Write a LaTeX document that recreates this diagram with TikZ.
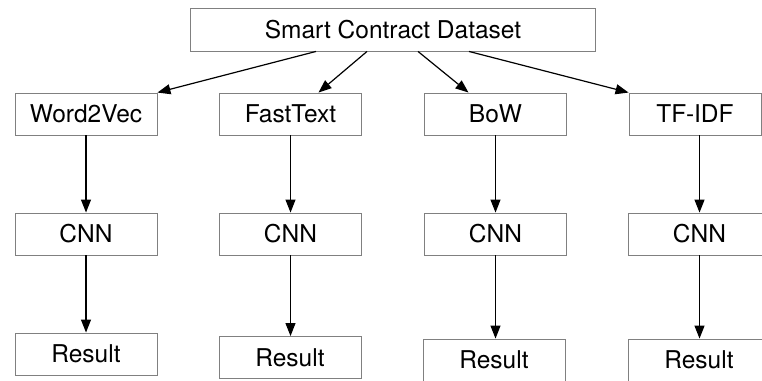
\documentclass[tikz,border=0pt]{standalone}
\usepackage{fontspec}
\setmainfont{TeX Gyre Heros}
\usetikzlibrary{arrows.meta}
\begin{document}
\begin{tikzpicture}[x=1pt,y=-1pt,
  box/.style={draw=black!50, line width=0.9pt, fill=white, minimum height=42pt, inner sep=0pt,
    font=\fontsize{24.5}{29}\selectfont},
  colbox/.style={box, minimum width=142pt},
  arr/.style={draw=black, line width=1.2pt, -{Triangle[length=13pt,width=10pt]}}]
\useasboundingbox (0,0) rectangle (762,380);
\clip (0,0) rectangle (762,380);
\node[box, minimum width=405pt, minimum height=43pt] (top) at (393,29.5) {Smart Contract Dataset};
% row 2
\node[colbox] (w2v) at (86,114) {Word2Vec};
\node[colbox] (ft) at (290.5,114) {FastText};
\node[colbox] (bow) at (495.5,114) {BoW};
\node[box, minimum width=132pt] (tfidf) at (695,114) {TF-IDF};
% CNN
\node[colbox] (c1) at (86,234) {CNN};
\node[colbox] (c2) at (290.5,234) {CNN};
\node[colbox] (c3) at (495.5,234) {CNN};
\node[box, minimum width=142pt] (c4) at (699.5,234) {CNN};
% Results
\node[colbox] (r1) at (86,354) {Result};
\node[colbox] (r2) at (290,357.5) {Result};
\node[colbox] (r3) at (494,360) {Result};
\node[box, minimum width=142pt] (r4) at (699,360) {Result};
% arrows from top
\draw[arr] ([xshift=-77pt]top.south) -- (w2v.north east);
\draw[arr] ([xshift=-26pt]top.south) -- ([xshift=28pt]ft.north);
\draw[arr] ([xshift=25pt]top.south) -- ([xshift=-27pt]bow.north);
\draw[arr] ([xshift=76pt]top.south) -- (tfidf.north west);
% vertical arrows
\draw[arr] (w2v.south) -- (c1.north);
\draw[arr] (ft.south) -- (c2.north);
\draw[arr] (bow.south) -- (c3.north);
\draw[arr] ([xshift=4.5pt]tfidf.south) -- (c4.north);
\draw[arr] (c1.south) -- (r1.north);
\draw[arr] (c2.south) -- ([xshift=0.5pt]r2.north);
\draw[arr] (c3.south) -- ([xshift=1.5pt]r3.north);
\draw[arr] (c4.south) -- ([xshift=0.5pt]r4.north);
\end{tikzpicture}
\end{document}
